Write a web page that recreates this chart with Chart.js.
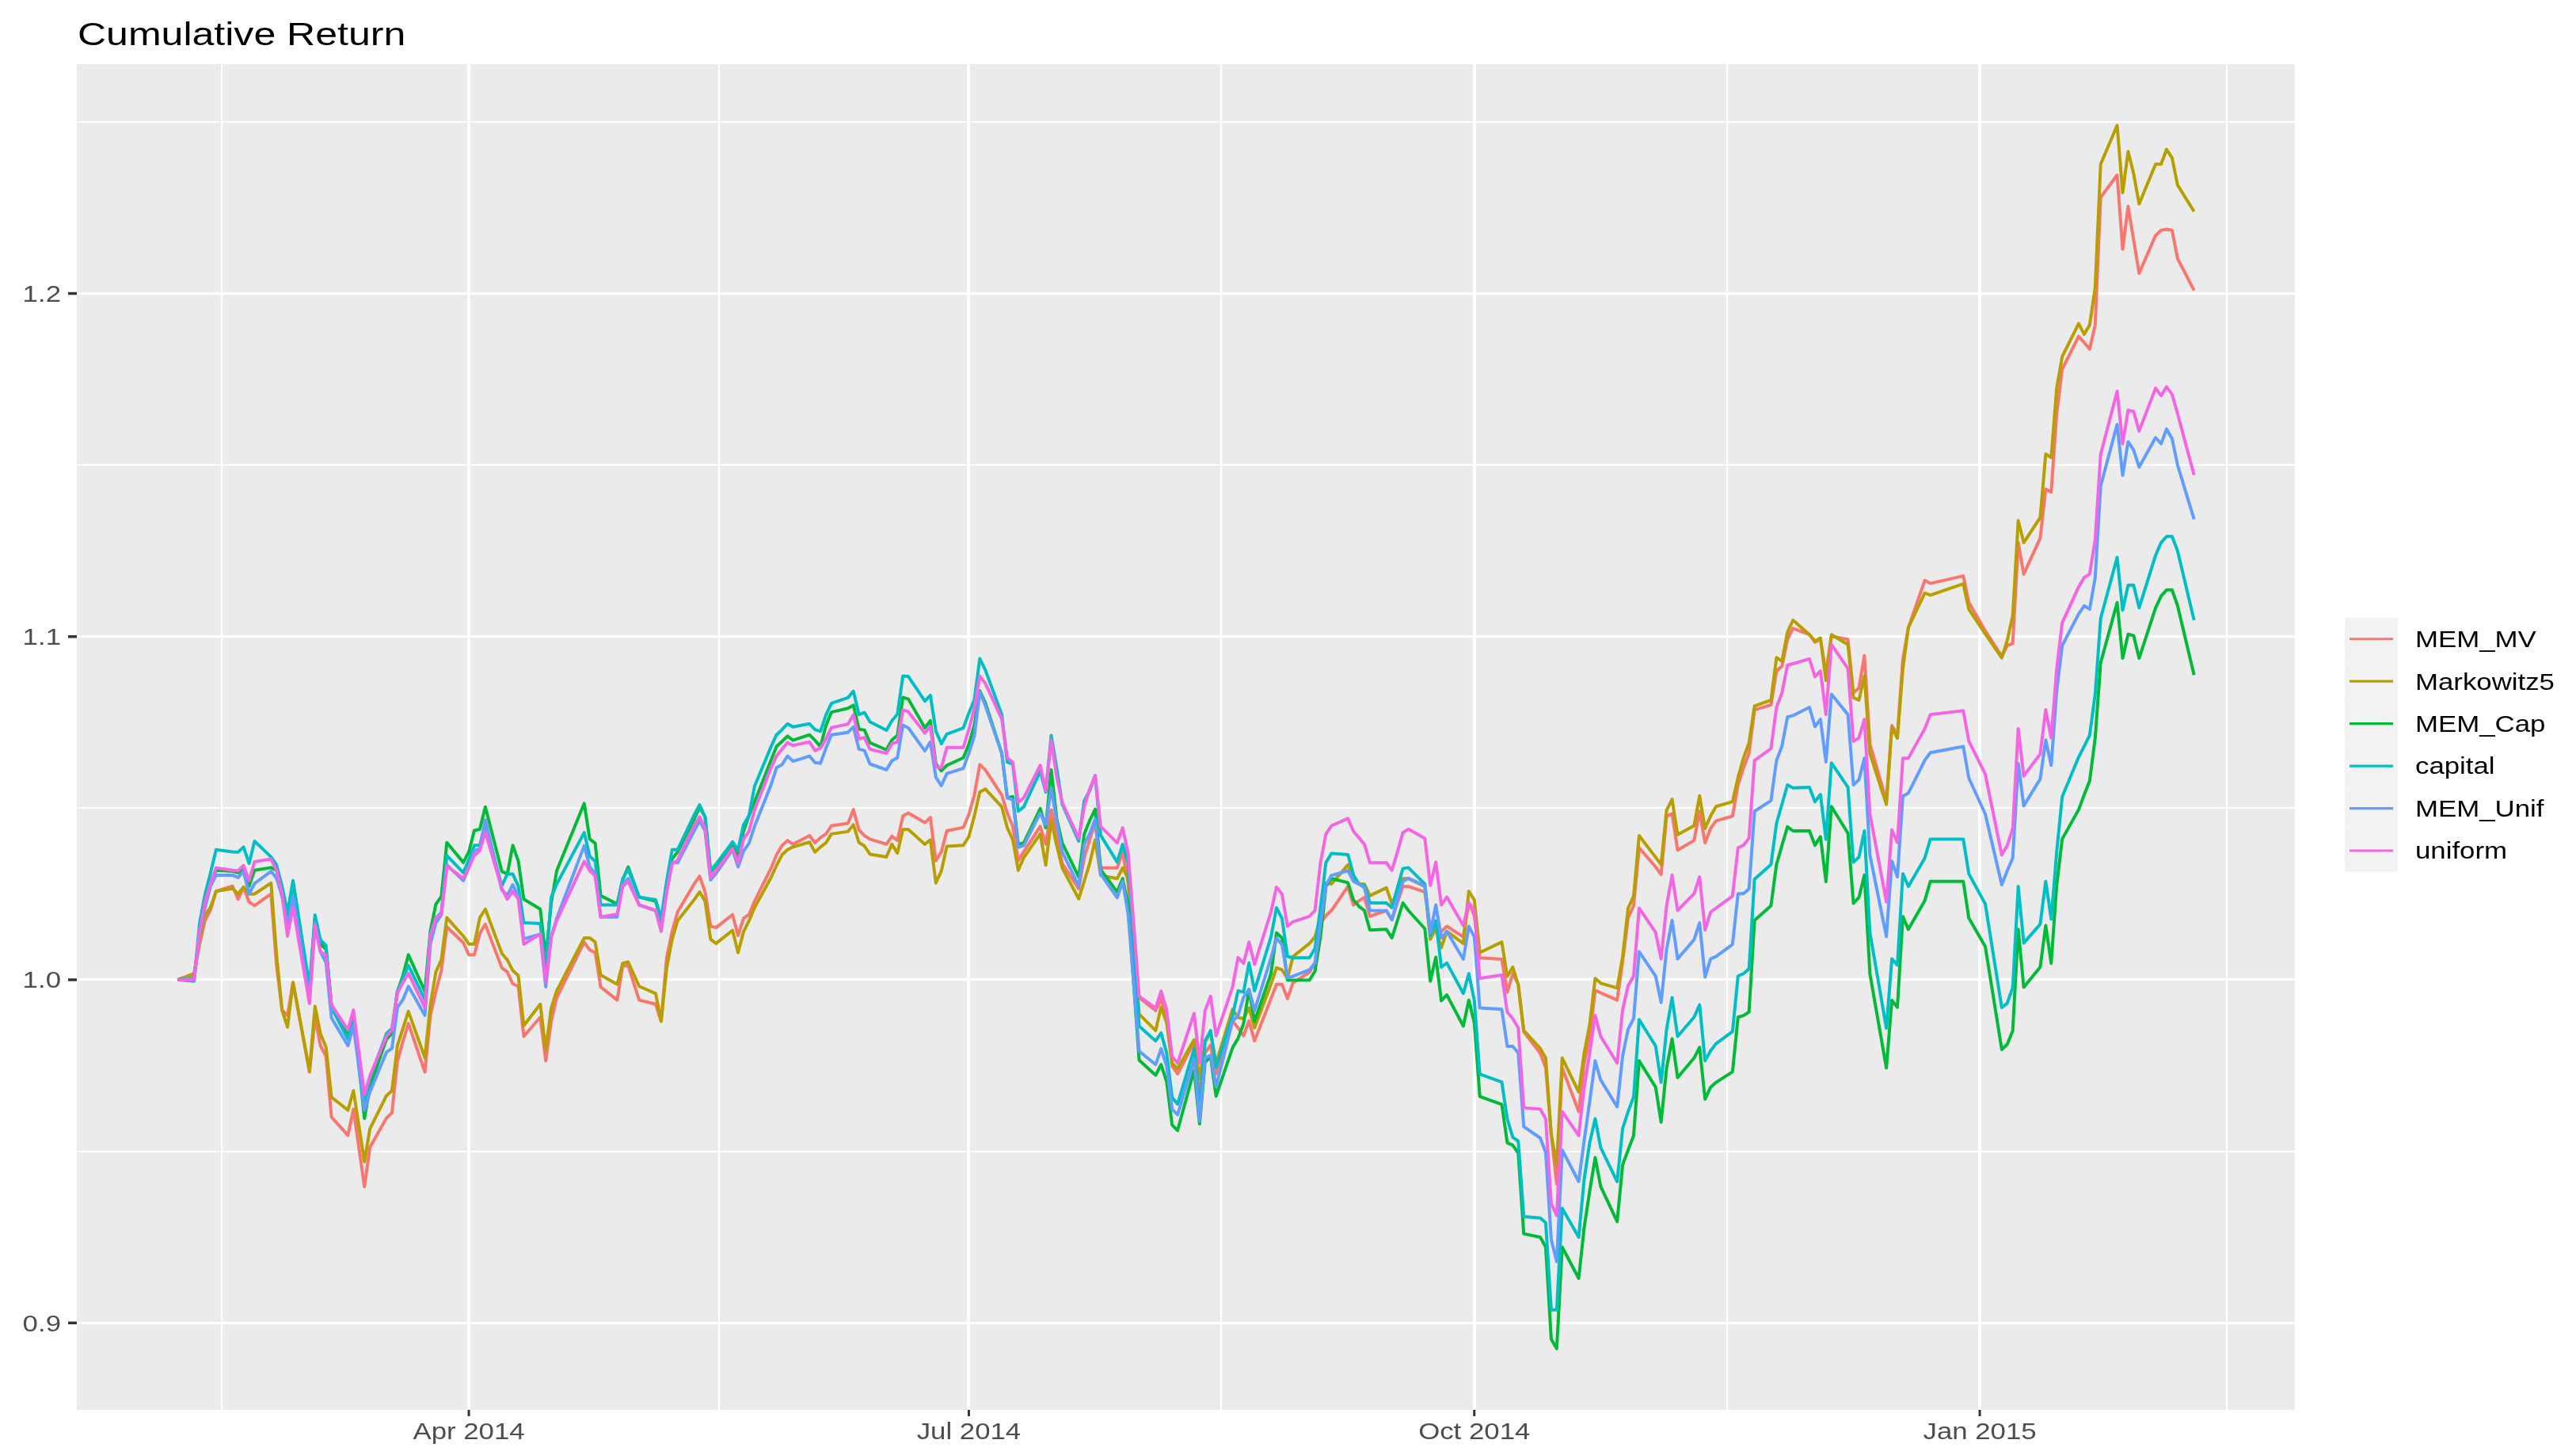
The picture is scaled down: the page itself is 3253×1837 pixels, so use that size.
<!DOCTYPE html>
<html>
<head>
<meta charset="utf-8">
<title>Cumulative Return</title>
<script src="https://cdn.jsdelivr.net/npm/chart.js@4.4.1/dist/chart.umd.min.js"></script>
<style>
  html, body { margin: 0; padding: 0; background: #ffffff; }
  #wrap { width: 3253px; height: 1837px; }
</style>
</head>
<body>
<div id="wrap"><canvas id="chart" width="3253" height="1837"></canvas></div>
<script>
// Trading days (one line per month)
const dates = [
  '2014-02-07','2014-02-10','2014-02-11','2014-02-12','2014-02-13','2014-02-14','2014-02-17','2014-02-18','2014-02-19','2014-02-20','2014-02-21','2014-02-24','2014-02-25','2014-02-26','2014-02-27','2014-02-28',
  '2014-03-03','2014-03-04','2014-03-05','2014-03-06','2014-03-07','2014-03-10','2014-03-11','2014-03-13','2014-03-14','2014-03-17','2014-03-18','2014-03-19','2014-03-20','2014-03-21','2014-03-24','2014-03-25','2014-03-26','2014-03-27','2014-03-28','2014-03-31',
  '2014-04-01','2014-04-02','2014-04-03','2014-04-04','2014-04-07','2014-04-08','2014-04-09','2014-04-10','2014-04-11','2014-04-14','2014-04-15','2014-04-16','2014-04-17','2014-04-22','2014-04-23','2014-04-24','2014-04-25','2014-04-28','2014-04-29','2014-04-30',
  '2014-05-02','2014-05-05','2014-05-06','2014-05-07','2014-05-08','2014-05-09','2014-05-12','2014-05-13','2014-05-14','2014-05-15','2014-05-16','2014-05-19','2014-05-20','2014-05-21','2014-05-22','2014-05-23','2014-05-26','2014-05-27','2014-05-28','2014-05-29','2014-05-30',
  '2014-06-02','2014-06-03','2014-06-04','2014-06-05','2014-06-06','2014-06-09','2014-06-10','2014-06-11','2014-06-12','2014-06-13','2014-06-16','2014-06-17','2014-06-18','2014-06-19','2014-06-20','2014-06-23','2014-06-24','2014-06-25','2014-06-26','2014-06-27','2014-06-30',
  '2014-07-01','2014-07-02','2014-07-03','2014-07-04','2014-07-07','2014-07-08','2014-07-09','2014-07-10','2014-07-11','2014-07-14','2014-07-15','2014-07-16','2014-07-17','2014-07-18','2014-07-21','2014-07-22','2014-07-23','2014-07-24','2014-07-25','2014-07-28','2014-07-29','2014-07-30','2014-07-31',
  '2014-08-01','2014-08-04','2014-08-05','2014-08-06','2014-08-07','2014-08-08','2014-08-11','2014-08-12','2014-08-13','2014-08-14','2014-08-15','2014-08-18','2014-08-19','2014-08-20','2014-08-21','2014-08-22','2014-08-25','2014-08-26','2014-08-27','2014-08-28','2014-08-29',
  '2014-09-01','2014-09-02','2014-09-03','2014-09-04','2014-09-05','2014-09-08','2014-09-09','2014-09-10','2014-09-11','2014-09-12','2014-09-15','2014-09-16','2014-09-17','2014-09-18','2014-09-19','2014-09-22','2014-09-23','2014-09-24','2014-09-25','2014-09-26','2014-09-29','2014-09-30',
  '2014-10-01','2014-10-02','2014-10-06','2014-10-07','2014-10-08','2014-10-09','2014-10-10','2014-10-13','2014-10-14','2014-10-15','2014-10-16','2014-10-17','2014-10-20','2014-10-21','2014-10-22','2014-10-23','2014-10-24','2014-10-27','2014-10-28','2014-10-29','2014-10-30','2014-10-31',
  '2014-11-03','2014-11-04','2014-11-05','2014-11-06','2014-11-07','2014-11-10','2014-11-11','2014-11-12','2014-11-13','2014-11-14','2014-11-17','2014-11-18','2014-11-19','2014-11-20','2014-11-21','2014-11-24','2014-11-25','2014-11-26','2014-11-27','2014-11-28',
  '2014-12-01','2014-12-02','2014-12-03','2014-12-04','2014-12-05','2014-12-08','2014-12-09','2014-12-10','2014-12-11','2014-12-12','2014-12-15','2014-12-16','2014-12-17','2014-12-18','2014-12-19','2014-12-22','2014-12-23','2014-12-29','2014-12-30',
  '2015-01-02','2015-01-05','2015-01-06','2015-01-07','2015-01-08','2015-01-09','2015-01-12','2015-01-13','2015-01-14','2015-01-15','2015-01-16','2015-01-19','2015-01-20','2015-01-21','2015-01-22','2015-01-23','2015-01-26','2015-01-27','2015-01-28','2015-01-29','2015-01-30',
  '2015-02-02','2015-02-03','2015-02-04','2015-02-05','2015-02-06','2015-02-09'
];

const memMV = [
  1.0,1.0019,1.0104,1.0173,1.0204,1.0258,1.0273,1.0235,1.027,1.0227,1.0216,1.025,1.0042,0.9912,0.9896,0.9992,
  0.9731,0.9889,0.9808,0.9777,0.96,0.9547,0.9623,0.9397,0.9512,0.9597,0.9612,0.9762,0.982,0.9873,0.9731,0.9896,0.9966,1.0027,1.0154,1.0108,
  1.0073,1.0073,1.0135,1.0162,1.0035,1.0023,0.9988,0.9981,0.9835,0.9891,0.9764,0.9879,0.9948,1.011,1.0087,1.0079,0.9979,0.9941,1.0041,1.0041,
  0.9941,0.9929,0.9879,1.0064,1.0141,1.0198,1.0279,1.0302,1.0256,1.0156,1.0152,1.019,1.0129,1.0179,1.019,1.0229,1.0325,1.0364,1.0391,1.0406,1.0395,
  1.042,1.0399,1.0414,1.0425,1.0449,1.0456,1.0496,1.0437,1.042,1.041,1.0395,1.0418,1.0406,1.0477,1.0486,1.0458,1.0473,1.0347,1.0373,1.0434,1.0444,
  1.0482,1.0538,1.0627,1.0612,1.0538,1.0486,1.0447,1.0347,1.0373,1.0447,1.0395,1.0495,1.0425,1.0339,1.0265,1.0356,1.0408,1.046,1.0326,1.0326,1.0373,1.028,1.0078,
  0.9948,0.991,0.9944,0.9894,0.9749,0.9726,0.9818,0.9657,0.9787,0.981,0.9726,0.988,0.986,0.9837,0.988,0.9822,0.9945,0.9987,0.9987,0.9945,0.9991,
  1.0022,1.0049,1.0164,1.0187,1.0202,1.0272,1.0218,1.023,1.024,1.0185,1.0202,1.0175,1.0225,1.0272,1.0272,1.0256,1.0148,1.0156,1.0141,1.0156,1.0125,1.0225,
  1.0187,1.0064,1.006,0.9964,1.0018,0.9987,0.9849,0.9786,0.9743,0.955,0.9405,0.9743,0.9616,0.9757,0.9835,0.9969,0.9962,0.9941,1.0054,1.0181,1.0216,1.0385,
  1.0329,1.0307,1.0477,1.0484,1.0378,1.0406,1.0491,1.0399,1.0441,1.0463,1.0477,1.0568,1.0618,1.066,1.0787,1.0801,1.09,1.0914,1.0992,1.1024,
  1.1006,1.0984,1.0992,1.0893,1.1001,1.0992,1.0836,1.085,1.0945,1.0688,1.0521,1.0741,1.0713,1.0934,1.1026,1.1164,1.1155,1.1177,1.11,
  1.1017,1.0943,1.0974,1.098,1.1274,1.1182,1.1287,1.143,1.1421,1.165,1.1779,1.1875,1.1857,1.1838,1.1908,1.228,1.2345,1.2129,1.2254,1.2156,1.2059,
  1.2169,1.2184,1.2187,1.2184,1.2102,1.2009
];

const markowitz5 = [
  1.0,1.0015,1.0119,1.0188,1.0212,1.0258,1.0266,1.025,1.027,1.025,1.025,1.0282,1.0073,0.9912,0.9862,0.9992,
  0.9735,0.9923,0.9843,0.9804,0.9658,0.962,0.9677,0.947,0.9566,0.9662,0.9677,0.9808,0.9858,0.9908,0.9773,0.9927,1.0023,1.0058,1.0181,1.0127,
  1.0104,1.0104,1.0181,1.0206,1.0077,1.0058,1.0027,1.0012,0.9866,0.9929,0.9795,0.9918,0.9968,1.0122,1.0122,1.011,1.0014,0.9987,1.0048,1.0052,
  0.9981,0.996,0.9879,1.0033,1.0118,1.0172,1.0233,1.0256,1.0229,1.0118,1.0106,1.0144,1.0079,1.014,1.0172,1.021,1.0298,1.0333,1.0364,1.0379,1.0387,
  1.0401,1.0372,1.0387,1.0399,1.0425,1.0432,1.0452,1.04,1.039,1.0366,1.0358,1.0395,1.0369,1.0438,1.0438,1.0395,1.0408,1.0282,1.0317,1.0389,1.0392,
  1.0417,1.0477,1.0547,1.0556,1.0504,1.0443,1.0408,1.0319,1.0356,1.0425,1.0334,1.0464,1.0391,1.0326,1.0236,1.0287,1.0339,1.0408,1.0304,1.0295,1.0326,1.0295,1.0122,
  0.99,0.9852,0.9921,0.9875,0.9757,0.9741,0.9825,0.9711,0.9818,0.9848,0.9757,0.9914,0.989,0.9887,0.9918,0.986,0.9987,1.0035,1.0029,1.0004,1.0068,
  1.0106,1.0125,1.0179,1.0283,1.0279,1.0335,1.0295,1.0279,1.0279,1.0245,1.0268,1.0222,1.0256,1.0295,1.0295,1.0272,1.0118,1.0148,1.0093,1.0141,1.0106,1.0258,
  1.0233,1.0079,1.011,1.001,1.0037,0.9985,0.9852,0.98,0.9772,0.955,0.9461,0.9772,0.9673,0.9786,0.987,1.0004,0.999,0.9976,1.0068,1.0209,1.0244,1.042,
  1.0357,1.0336,1.0494,1.0526,1.0423,1.0449,1.0536,1.0441,1.0477,1.0505,1.0519,1.059,1.0646,1.0691,1.0798,1.0815,1.0939,1.0928,1.1013,1.1048,
  1.1006,1.0987,1.0996,1.0872,1.1006,1.0977,1.0822,1.0815,1.0886,1.066,1.0511,1.0736,1.0704,1.0906,1.1026,1.1127,1.1121,1.1154,1.108,
  1.1008,1.0938,1.0989,1.1062,1.1338,1.1274,1.1347,1.1532,1.1522,1.1724,1.1816,1.1912,1.1881,1.1908,1.2018,1.2377,1.249,1.2294,1.2414,1.2349,1.2261,
  1.2377,1.2377,1.242,1.2395,1.2316,1.2239
];

const memCap = [
  1.0,1.0004,1.0142,1.0227,1.0281,1.0319,1.0316,1.0312,1.0323,1.0273,1.0319,1.0327,1.0319,1.0258,1.0181,1.0285,
  0.9966,1.0181,1.0104,1.0089,0.9927,0.9835,0.9904,0.9596,0.9689,0.9827,0.9843,0.9966,1.0012,1.0073,0.9966,1.0142,1.022,1.0243,1.04,1.0342,
  1.0373,1.0435,1.0439,1.0504,1.0316,1.0308,1.0392,1.0346,1.0235,1.0206,1.0064,1.0225,1.0318,1.0514,1.041,1.0398,1.0245,1.0221,1.0291,1.0329,
  1.0241,1.0229,1.0172,1.0264,1.0352,1.0372,1.0468,1.0502,1.0475,1.0314,1.0333,1.0395,1.0356,1.0433,1.0479,1.0518,1.064,1.068,1.0695,1.071,1.0698,
  1.0714,1.0698,1.0679,1.0741,1.078,1.0791,1.08,1.073,1.0728,1.0691,1.067,1.0699,1.0712,1.0823,1.0818,1.0734,1.0755,1.0629,1.0609,1.0625,1.0647,
  1.0686,1.0742,1.0842,1.0807,1.066,1.053,1.0534,1.0395,1.0399,1.0499,1.0443,1.0612,1.0469,1.0399,1.0299,1.0425,1.0464,1.0497,1.0321,1.0256,1.0295,1.0217,0.9991,
  0.9766,0.9722,0.9753,0.9703,0.9577,0.9561,0.9737,0.958,0.976,0.9776,0.9661,0.9802,0.9829,0.9872,0.9972,0.9879,1.0018,1.0137,1.0122,0.9999,0.9999,
  0.9999,1.0025,1.0125,1.0272,1.0295,1.0283,1.0233,1.0214,1.0202,1.0145,1.0147,1.0122,1.0172,1.0224,1.0202,1.0149,0.9996,1.0066,0.9939,0.9956,0.9865,0.9941,
  0.9875,0.966,0.9637,0.9525,0.9518,0.9495,0.926,0.925,0.9221,0.8953,0.8925,0.9221,0.913,0.9278,0.9384,0.9482,0.9398,0.9295,0.9461,0.9504,0.9546,0.9764,
  0.9687,0.9585,0.9743,0.9828,0.9715,0.9772,0.9803,0.9652,0.9687,0.9701,0.9732,0.9891,0.9896,0.9906,1.0173,1.0216,1.0336,1.0392,1.0446,1.0434,
  1.0434,1.0392,1.0417,1.0286,1.0505,1.0427,1.0223,1.024,1.0305,1.0018,0.9743,0.994,0.992,1.0184,1.0147,1.0231,1.0287,1.0287,1.018,
  1.0097,0.9797,0.9812,0.9852,1.0147,0.9978,1.0037,1.0158,1.0048,1.0276,1.041,1.0496,1.0539,1.058,1.0704,1.0924,1.1099,1.0937,1.1007,1.1003,1.0937,
  1.1084,1.1118,1.1136,1.1136,1.109,1.0888
];

const capital = [
  1.0,0.9996,1.0166,1.025,1.0312,1.0379,1.0373,1.0372,1.0387,1.0339,1.0404,1.0358,1.0335,1.0273,1.0196,1.0289,
  0.9981,1.0189,1.0116,1.01,0.9919,0.9827,0.9896,0.9635,0.9712,0.9843,0.9858,0.9966,1.0004,1.0042,0.9942,1.0135,1.0181,1.0196,1.0362,1.0312,
  1.035,1.0392,1.0392,1.0454,1.0273,1.0308,1.0308,1.0273,1.0166,1.0164,1.0033,1.0241,1.0279,1.0429,1.036,1.0345,1.0218,1.0218,1.0295,1.0322,
  1.0241,1.0233,1.0179,1.0287,1.0379,1.0379,1.048,1.051,1.0475,1.0318,1.0337,1.0402,1.0379,1.0452,1.0479,1.0564,1.0679,1.0714,1.0729,1.0746,1.0737,
  1.0746,1.0729,1.0724,1.0772,1.0806,1.0822,1.0841,1.0773,1.0779,1.0752,1.0727,1.0755,1.0774,1.0885,1.0884,1.0812,1.0829,1.0725,1.0688,1.0716,1.0734,
  1.0777,1.0816,1.0936,1.0903,1.0773,1.0634,1.0629,1.0491,1.0504,1.0608,1.0547,1.0712,1.0616,1.0512,1.0404,1.0521,1.0551,1.0595,1.0421,1.0343,1.0395,1.0339,1.0122,
  0.9865,0.9822,0.9845,0.9787,0.9657,0.9638,0.9799,0.9626,0.9822,0.9852,0.9745,0.9895,0.9968,0.9964,1.0049,0.9968,1.0125,1.021,1.0179,1.0068,1.0064,
  1.0064,1.0091,1.021,1.0342,1.0368,1.0365,1.0306,1.0279,1.0275,1.0224,1.0224,1.021,1.0268,1.0324,1.0327,1.0279,1.0129,1.0172,1.0037,1.0049,0.996,1.0018,
  0.9941,0.9725,0.9702,0.9595,0.9541,0.953,0.931,0.9306,0.9292,0.9038,0.9038,0.9334,0.925,0.9419,0.9525,0.9595,0.9511,0.9412,0.9567,0.9616,0.9659,0.9884,
  0.9807,0.9701,0.9856,0.9948,0.9835,0.9891,0.9927,0.9764,0.9793,0.9814,0.9849,1.0011,1.0018,1.0032,1.0293,1.0336,1.0456,1.0512,1.0568,1.0559,
  1.0561,1.0519,1.054,1.0409,1.0632,1.0561,1.0343,1.0357,1.0434,1.0138,0.9859,1.0061,1.0043,1.0309,1.0272,1.0355,1.041,1.041,1.0309,
  1.0221,0.9919,0.9932,0.9978,1.0272,1.0107,1.0162,1.0287,1.0177,1.0373,1.0533,1.0649,1.068,1.0713,1.0832,1.1053,1.1231,1.1077,1.115,1.115,1.1084,
  1.1237,1.1274,1.1292,1.1292,1.125,1.1048
];

const memUnif = [
  1.0,1.0004,1.0135,1.0212,1.0273,1.0305,1.0305,1.0298,1.0316,1.025,1.0281,1.0316,1.0296,1.0243,1.0158,1.0243,
  0.9942,1.0166,1.0081,1.005,0.9889,0.9808,0.9866,0.962,0.9673,0.9789,0.98,0.9919,0.9942,0.9981,0.9896,1.0104,1.0166,1.0189,1.0335,1.0289,
  1.0327,1.0377,1.0381,1.0466,1.0262,1.0246,1.0277,1.0243,1.0119,1.0133,0.9979,1.0125,1.0179,1.0391,1.0329,1.031,1.0183,1.0183,1.0279,1.0295,
  1.0218,1.0202,1.0148,1.0256,1.0343,1.0341,1.0433,1.0464,1.0433,1.0291,1.031,1.0379,1.0329,1.0375,1.0398,1.0447,1.0568,1.0618,1.0627,1.0652,1.0637,
  1.0652,1.0633,1.0631,1.0675,1.0714,1.0721,1.0737,1.0672,1.0668,1.0629,1.0612,1.0638,1.0647,1.0742,1.0734,1.0667,1.0693,1.059,1.0566,1.0601,1.0616,
  1.066,1.071,1.0838,1.0799,1.066,1.053,1.0525,1.0386,1.0391,1.0486,1.0451,1.056,1.046,1.0373,1.0273,1.0395,1.0425,1.0469,1.0308,1.0239,1.0287,1.0191,0.9991,
  0.9792,0.9753,0.9799,0.9749,0.9623,0.9607,0.9768,0.9588,0.9772,0.978,0.9688,0.988,0.9895,0.9949,0.9972,0.991,1.0064,1.0122,1.0102,1.0006,1.001,
  1.0029,1.0049,1.0164,1.0275,1.0304,1.0318,1.0287,1.0279,1.0268,1.0202,1.0201,1.0175,1.0233,1.0287,1.0296,1.0274,1.0137,1.0218,1.0122,1.0141,1.006,1.0156,
  1.0125,0.9918,0.9914,0.9806,0.9806,0.9787,0.9572,0.9539,0.9496,0.9243,0.9179,0.9504,0.9412,0.9532,0.9645,0.9764,0.9708,0.963,0.9779,0.9856,0.9887,1.0082,
  1.0011,0.9934,1.0089,1.0173,1.0061,1.0117,1.0166,1.0008,1.0061,1.0068,1.0103,1.0251,1.0251,1.0265,1.0491,1.0522,1.0639,1.0681,1.0766,1.077,
  1.0794,1.0738,1.0759,1.0635,1.0832,1.0773,1.0568,1.0583,1.0646,1.0364,1.0126,1.0346,1.03,1.0535,1.0544,1.064,1.0662,1.068,1.0588,
  1.0483,1.0277,1.0318,1.0355,1.063,1.0507,1.0585,1.0699,1.0625,1.0842,1.0974,1.1066,1.109,1.108,1.1172,1.1439,1.1618,1.147,1.1568,1.1544,1.1494,
  1.158,1.1562,1.1605,1.1577,1.15,1.1342
];

const uniform = [
  1.0,1.0,1.0142,1.0227,1.0281,1.0326,1.0319,1.0318,1.0333,1.0289,1.0344,1.0352,1.0319,1.025,1.0127,1.0212,
  0.9931,1.0158,1.0081,1.0073,0.9927,0.9854,0.9912,0.9666,0.972,0.9835,0.9854,0.9962,0.9992,1.0019,0.9919,1.0127,1.0181,1.0192,1.0331,1.0296,
  1.0327,1.0362,1.0377,1.0431,1.0266,1.0235,1.0258,1.0235,1.0104,1.0133,0.9995,1.0125,1.0172,1.0345,1.0318,1.0302,1.0183,1.0191,1.0272,1.0287,
  1.0218,1.0202,1.0141,1.0256,1.0337,1.0349,1.0449,1.0475,1.0441,1.0298,1.0318,1.0383,1.0341,1.041,1.0433,1.0495,1.0618,1.0652,1.0672,1.0691,1.0683,
  1.0693,1.0668,1.0675,1.0702,1.0735,1.0745,1.0772,1.0702,1.0706,1.0672,1.066,1.0688,1.0693,1.0786,1.0781,1.0719,1.0738,1.0621,1.0618,1.0677,1.0677,
  1.0729,1.079,1.0885,1.0864,1.076,1.0647,1.0634,1.0517,1.053,1.0625,1.0551,1.0699,1.059,1.0517,1.0412,1.0504,1.0556,1.0595,1.0447,1.0399,1.0443,1.0369,1.0165,
  0.9952,0.9917,0.9967,0.9913,0.9776,0.9757,0.9902,0.9757,0.991,0.9952,0.9837,0.9979,1.0065,1.0048,1.011,1.0045,1.0198,1.027,1.025,1.0156,1.0169,
  1.0185,1.0202,1.0341,1.0425,1.0449,1.047,1.0433,1.0414,1.0395,1.0341,1.0341,1.0319,1.0372,1.0429,1.0439,1.0412,1.0275,1.0343,1.0218,1.0241,1.0158,1.0225,
  1.0202,1.0004,1.0014,0.9906,0.9887,0.986,0.9627,0.9623,0.9595,0.9348,0.9313,0.9616,0.9546,0.9687,0.9786,0.9896,0.9835,0.9757,0.9913,0.9983,1.0011,1.0209,
  1.0138,1.0061,1.0216,1.0305,1.0202,1.0251,1.03,1.0145,1.0197,1.0209,1.0244,1.0385,1.0392,1.0413,1.0639,1.0674,1.0794,1.0836,1.0917,1.0921,
  1.0935,1.0883,1.09,1.0773,1.0977,1.0907,1.0695,1.0705,1.0759,1.0484,1.0227,1.0437,1.04,1.0646,1.0646,1.0732,1.0773,1.0784,1.0696,
  1.0599,1.0364,1.0391,1.0441,1.0732,1.0594,1.0658,1.0787,1.0705,1.0906,1.104,1.1145,1.1172,1.1182,1.1283,1.1531,1.1715,1.1562,1.166,1.1656,1.1599,
  1.1724,1.1702,1.1728,1.1706,1.165,1.1471
];

const seriesNames = ['MEM_MV', 'Markowitz5', 'MEM_Cap', 'capital', 'MEM_Unif', 'uniform'];
const seriesValues = [memMV, markowitz5, memCap, capital, memUnif, uniform];
const seriesColors = ['#F8766D', '#B79F00', '#00BA38', '#00BFC4', '#619CFF', '#F564E3'];

// axis breaks (the outer ones only feed the minor grid)
const xBreaks = ['2014-01-01', '2014-04-01', '2014-07-01', '2014-10-01', '2015-01-01', '2015-04-01'];
const xLabels = ['Jan 2014', 'Apr 2014', 'Jul 2014', 'Oct 2014', 'Jan 2015', 'Apr 2015'];
const yBreaks = [0.8, 0.9, 1.0, 1.1, 1.2, 1.3];
const yLabels = ['0.8', '0.9', '1.0', '1.1', '1.2', '1.3'];

const chartTitle = 'Cumulative Return';

// layout
const WIDTH = 3253, HEIGHT = 1837;
const PANEL = { left: 97, top: 81, right: 2898, bottom: 1780 };
const FONT = '"Liberation Sans", Arial, Helvetica, sans-serif';
const STRETCH = 1.2; // source text is drawn a little wide

function toDay(s) {
  return Date.parse(s + 'T00:00:00Z') / 86400000;
}

// ggplot style 5% expansion
function expandRange(min, max) {
  const pad = (max - min) * 0.05;
  return [min - pad, max + pad];
}

function midpoints(list) {
  const out = [];
  for (let i = 0; i < list.length - 1; i++) out.push((list[i] + list[i + 1]) / 2);
  return out;
}

const xDays = dates.map(toDay);
const [xMin, xMax] = expandRange(Math.min(...xDays), Math.max(...xDays));
const allValues = seriesValues.flat();
const [yMin, yMax] = expandRange(Math.min(...allValues), Math.max(...allValues));

const xBreakDays = xBreaks.map(toDay);
const inX = v => v >= xMin && v <= xMax;
const inY = v => v >= yMin && v <= yMax;

const xMajor = xBreakDays.map((v, i) => ({ value: v, label: xLabels[i] })).filter(t => inX(t.value));
const xMinor = midpoints(xBreakDays).filter(inX);
const yMajor = yBreaks.map((v, i) => ({ value: v, label: yLabels[i] })).filter(t => inY(t.value));
const yMinor = midpoints(yBreaks).filter(inY);

seriesValues.forEach((arr, i) => {
  if (arr.length !== dates.length) console.error(seriesNames[i], arr.length, dates.length);
});

// stretched text helper
function drawText(ctx, text, x, y, align, size, color, stretch) {
  const sx = stretch || STRETCH;
  ctx.save();
  ctx.font = size + 'px ' + FONT;
  ctx.fillStyle = color;
  ctx.textAlign = 'left';
  ctx.textBaseline = 'alphabetic';
  const w = ctx.measureText(text).width * sx;
  let left = x;
  if (align === 'center') left = x - w / 2;
  else if (align === 'right') left = x - w;
  ctx.translate(left, y);
  ctx.scale(sx, 1);
  ctx.fillText(text, 0, 0);
  ctx.restore();
}

// grey panel behind the grid
const panelBackground = {
  id: 'panelBackground',
  beforeDraw(chart) {
    const { ctx, chartArea: a } = chart;
    ctx.save();
    ctx.fillStyle = '#EBEBEB';
    ctx.fillRect(a.left, a.top, a.right - a.left, a.bottom - a.top);
    ctx.restore();
  }
};

// title, axis ticks + labels, legend
const decorations = {
  id: 'decorations',
  afterDraw(chart) {
    const { ctx, chartArea: a, scales } = chart;

    drawText(ctx, chartTitle, 98, 57, 'left', 41, '#000000', 1.22);

    ctx.save();
    ctx.strokeStyle = '#333333';
    ctx.lineWidth = 3.5;
    yMajor.forEach(t => {
      const y = scales.y.getPixelForValue(t.value);
      ctx.beginPath();
      ctx.moveTo(a.left - 11, y);
      ctx.lineTo(a.left, y);
      ctx.stroke();
    });
    ctx.lineWidth = 3;
    xMajor.forEach(t => {
      const x = scales.x.getPixelForValue(t.value);
      ctx.beginPath();
      ctx.moveTo(x, a.bottom);
      ctx.lineTo(x, a.bottom + 8);
      ctx.stroke();
    });
    ctx.restore();

    yMajor.forEach(t => {
      const y = scales.y.getPixelForValue(t.value);
      drawText(ctx, t.label, a.left - 20, y + 10.4, 'right', 29, '#4D4D4D');
    });
    xMajor.forEach(t => {
      const x = scales.x.getPixelForValue(t.value);
      drawText(ctx, t.label, x, 1817, 'center', 29, '#4D4D4D');
    });

    // legend
    const keyLeft = 2961, keyW = 67, keyTop = 780, keyH = 53.45;
    seriesNames.forEach((name, i) => {
      const top = keyTop + i * keyH;
      const mid = top + keyH / 2;
      ctx.save();
      ctx.fillStyle = '#F2F2F2';
      ctx.fillRect(keyLeft, top, keyW, keyH);
      ctx.strokeStyle = seriesColors[i];
      ctx.lineWidth = 3.2;
      ctx.beginPath();
      ctx.moveTo(keyLeft + 6, mid);
      ctx.lineTo(keyLeft + keyW - 6, mid);
      ctx.stroke();
      ctx.restore();
      drawText(ctx, name, 3050, mid + 10.4, 'left', 29, '#000000');
    });
  }
};

const datasets = seriesNames.map((name, i) => ({
  label: name,
  data: xDays.map((x, j) => ({ x: x, y: seriesValues[i][j] })),
  borderColor: seriesColors[i],
  backgroundColor: seriesColors[i],
  borderWidth: 4,
  borderJoinStyle: 'round',
  pointRadius: 0,
  tension: 0,
  fill: false,
  order: seriesNames.length - 1 - i // later series drawn on top, as in ggplot
}));

function gridTicks(major, minor) {
  return major.map(t => ({ value: t.value, major: true }))
    .concat(minor.map(v => ({ value: v, major: false })))
    .sort((p, q) => p.value - q.value);
}

new Chart(document.getElementById('chart'), {
  type: 'line',
  data: { datasets: datasets },
  options: {
    responsive: false,
    animation: false,
    devicePixelRatio: 1,
    layout: {
      padding: {
        left: PANEL.left,
        top: PANEL.top,
        right: WIDTH - PANEL.right,
        bottom: HEIGHT - PANEL.bottom
      }
    },
    plugins: {
      legend: { display: false },
      title: { display: false },
      tooltip: { enabled: false }
    },
    scales: {
      x: {
        type: 'linear',
        min: xMin,
        max: xMax,
        bounds: 'data',
        border: { display: false },
        ticks: { display: false },
        grid: {
          color: '#FFFFFF',
          drawTicks: false,
          lineWidth: ctx => (ctx.tick && ctx.tick.major ? 4 : 2.2)
        },
        afterBuildTicks: scale => { scale.ticks = gridTicks(xMajor, xMinor); }
      },
      y: {
        type: 'linear',
        min: yMin,
        max: yMax,
        bounds: 'data',
        border: { display: false },
        ticks: { display: false },
        grid: {
          color: '#FFFFFF',
          drawTicks: false,
          lineWidth: ctx => (ctx.tick && ctx.tick.major ? 3.3 : 1.8)
        },
        afterBuildTicks: scale => { scale.ticks = gridTicks(yMajor, yMinor); }
      }
    }
  },
  plugins: [panelBackground, decorations]
});
</script>
</body>
</html>
